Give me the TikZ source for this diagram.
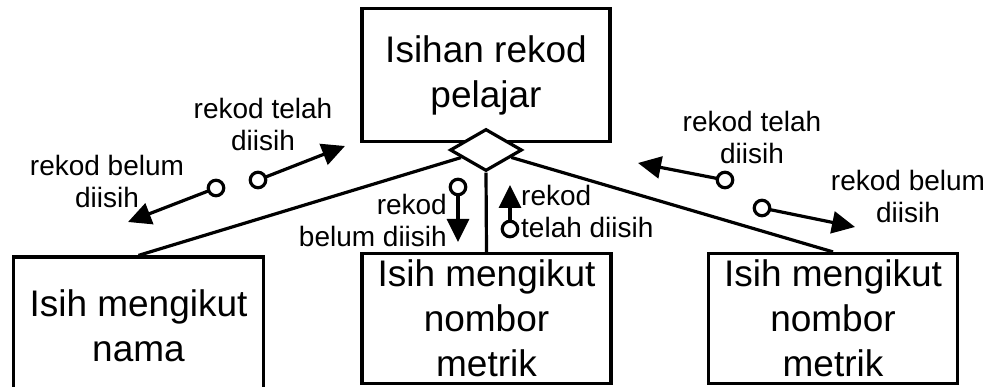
\documentclass[tikz,border=0pt]{standalone}
\usepackage{fontspec}
\setmainfont{Liberation Sans}
\usetikzlibrary{arrows.meta,shapes.geometric}

\tikzset{
  boxnode/.style={draw, line width=3.2pt, rectangle, inner sep=0pt, align=center,
    font=\fontsize{37}{45}\selectfont},
  joint/.style={draw, line width=3.2pt, diamond, fill=white, inner sep=0pt,
    minimum width=72pt, minimum height=42pt, aspect=1.7},
  link/.style={line width=3.2pt},
  flow/.style={line width=3.2pt, -{Triangle[length=23pt,width=22pt]}},
  flowdot/.style={draw, line width=3.2pt, circle, fill=white, inner sep=0pt, minimum size=15.5pt},
  note/.style={inner sep=0pt, font=\fontsize{28}{32}\selectfont}
}

\begin{document}
\begin{tikzpicture}[x=1pt,y=-1pt]
\useasboundingbox (0,0) rectangle (990,387);

% boxes
\node[boxnode, minimum width=248pt, minimum height=133pt] (top) at (486,75) {Isihan rekod\\pelajar};
\node[boxnode, minimum width=250pt, minimum height=138pt] (b1) at (138.5,326) {Isih mengikut\\nama};
\node[boxnode, minimum width=249pt, minimum height=130pt] (b2) at (486.5,318.5) {Isih mengikut\\nombor\\metrik};
\node[boxnode, minimum width=249pt, minimum height=130pt] (b3) at (833,318.5) {Isih mengikut\\nombor\\metrik};

% relation diamond
\node[joint] (dia) at (486,150) {};

% structure lines
\draw[link] (dia) -- (b1.north);
\draw[link] (dia.south) -- (b2.north);
\draw[link] (dia) -- (b3.north);

% data flows, left branch
\coordinate (t1) at (128,222);
\coordinate (t2) at (345,146);
\draw[flow] (216,188) -- (t1);
\node[flowdot] (c1) at (216,188) {};
\draw[flow] (258,180) -- (t2);
\node[flowdot] (c2) at (258,180) {};
\node[note, align=center] (n1) at (107,181) {rekod belum\\diisih};
\node[note, align=center] (n2) at (263,124) {rekod telah\\diisih};

% data flows, middle branch
\coordinate (t3) at (458,242);
\coordinate (t4) at (510,185);
\draw[flow] (458,187) -- (t3);
\node[flowdot] (c3) at (458,187) {};
\draw[flow] (510,229) -- (t4);
\node[flowdot] (c4) at (510,229) {};
\node[note, align=right, anchor=east] (n3) at (447,220) {rekod\\belum diisih};
\node[note, align=left, anchor=west] (n4) at (521,211) {rekod\\telah diisih};

% data flows, right branch
\coordinate (t5) at (638,163);
\coordinate (t6) at (855,227);
\draw[flow] (725,180) -- (t5);
\node[flowdot] (c5) at (725,180) {};
\draw[flow] (762,208) -- (t6);
\node[flowdot] (c6) at (762,208) {};
\node[note, align=center] (n5) at (752,137) {rekod telah\\diisih};
\node[note, align=center] (n6) at (908,196) {rekod belum\\diisih};
\end{tikzpicture}
\end{document}
